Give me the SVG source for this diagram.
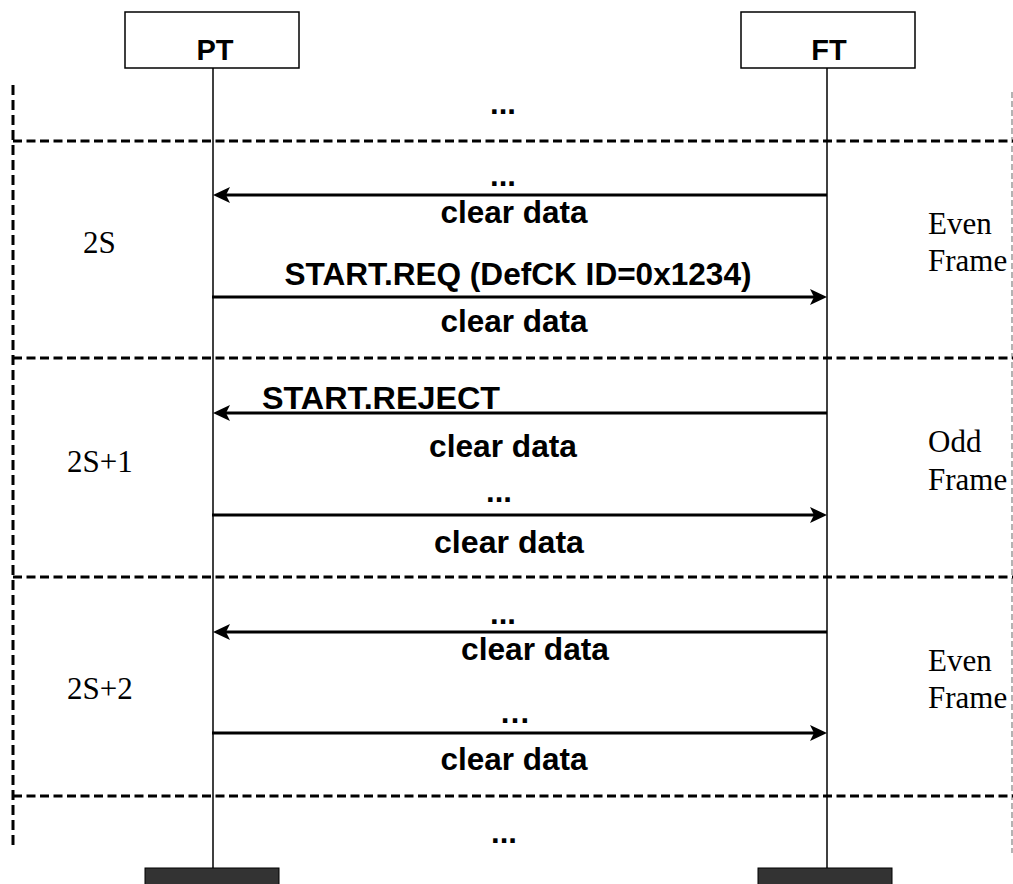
<svg xmlns="http://www.w3.org/2000/svg" width="1013" height="884" viewBox="0 0 1013 884">
<defs>
<style>
.lbl{font-family:"Liberation Sans",Arial,sans-serif;font-weight:bold;font-size:31px;fill:#000;text-anchor:middle}
.lblL{font-family:"Liberation Sans",Arial,sans-serif;font-weight:bold;font-size:31px;fill:#000}
.tm{font-family:"Liberation Serif","Times New Roman",serif;font-size:31px;fill:#000}
.dash{stroke:#000;stroke-width:3;stroke-dasharray:9 4.5;fill:none}
.vdash{stroke:#000;stroke-width:3;stroke-dasharray:10 5;fill:none}
.gdash{stroke:#9a9a9a;stroke-width:1.5;stroke-dasharray:6 3;fill:none}
.life{stroke:#000;stroke-width:1.5;fill:none}
.msg{stroke:#000;stroke-width:3;fill:none;marker-end:url(#ah)}
.box{fill:#fff;stroke:#000;stroke-width:1.5}
.foot{fill:#333;stroke:#000;stroke-width:1}
</style>
<marker id="ah" viewBox="0 0 17 16" refX="11" refY="8" markerWidth="17" markerHeight="16" markerUnits="userSpaceOnUse" orient="auto">
<path d="M0,0 L17,8 L0,16 L4,8 z" fill="#000"/>
</marker>
</defs>
<rect width="1013" height="884" fill="#fff"/>

<g id="frames">
<line class="vdash" x1="13" y1="85" x2="13" y2="846"/>
<line class="gdash" x1="1012" y1="92" x2="1012" y2="853"/>
<line class="dash" x1="13" y1="141" x2="1013" y2="141"/>
<line class="dash" x1="13" y1="358" x2="1013" y2="358"/>
<line class="dash" x1="13" y1="577" x2="1013" y2="577"/>
<line class="dash" x1="13" y1="796" x2="1013" y2="796"/>
<text class="tm" x="83" y="253">2S</text>
<text class="tm" x="67" y="472">2S+1</text>
<text class="tm" x="67" y="699">2S+2</text>
<text class="tm" x="928" y="234">Even</text>
<text class="tm" x="928" y="271">Frame</text>
<text class="tm" x="928" y="452">Odd</text>
<text class="tm" x="928" y="490">Frame</text>
<text class="tm" x="928" y="671">Even</text>
<text class="tm" x="928" y="708">Frame</text>
</g>

<g id="PT">
<line class="life" x1="213" y1="68" x2="213" y2="868"/>
<rect class="box" x="125" y="12" width="174" height="56"/>
<text class="lbl" x="215" y="60" style="font-size:29px">PT</text>
<rect class="foot" x="145" y="868" width="134" height="20"/>
</g>

<g id="FT">
<line class="life" x1="827" y1="68" x2="827" y2="868"/>
<rect class="box" x="741" y="12" width="174" height="56"/>
<text class="lbl" x="829" y="60" style="font-size:29px">FT</text>
<rect class="foot" x="758" y="868" width="134" height="20"/>
</g>

<g id="connectors">
<line class="msg" x1="827" y1="195" x2="219" y2="195"/>
<line class="msg" x1="212" y1="297" x2="821" y2="297"/>
<line class="msg" x1="827" y1="413" x2="219" y2="413"/>
<line class="msg" x1="212" y1="515" x2="821" y2="515"/>
<line class="msg" x1="827" y1="632" x2="219" y2="632"/>
<line class="msg" x1="212" y1="733" x2="821" y2="733"/>
</g>

<g id="labels">
<text class="lbl" x="503" y="114">...</text>
<text class="lbl" x="503" y="186">...</text>
<text class="lbl" x="514" y="223" textLength="147" lengthAdjust="spacingAndGlyphs">clear data</text>
<text class="lbl" x="518" y="285" textLength="467" lengthAdjust="spacingAndGlyphs">START.REQ (DefCK ID=0x1234)</text>
<text class="lbl" x="514" y="332" textLength="147" lengthAdjust="spacingAndGlyphs">clear data</text>
<text class="lblL" x="262" y="409" textLength="238" lengthAdjust="spacingAndGlyphs">START.REJECT</text>
<text class="lbl" x="503" y="457" textLength="148" lengthAdjust="spacingAndGlyphs">clear data</text>
<text class="lbl" x="499" y="502">...</text>
<text class="lbl" x="509" y="553" textLength="150" lengthAdjust="spacingAndGlyphs">clear data</text>
<text class="lbl" x="503" y="624">...</text>
<text class="lbl" x="535" y="660" textLength="148" lengthAdjust="spacingAndGlyphs">clear data</text>
<text class="lbl" x="515" y="723">…</text>
<text class="lbl" x="514" y="770" textLength="147" lengthAdjust="spacingAndGlyphs">clear data</text>
<text class="lbl" x="504" y="843">...</text>
</g>
</svg>
